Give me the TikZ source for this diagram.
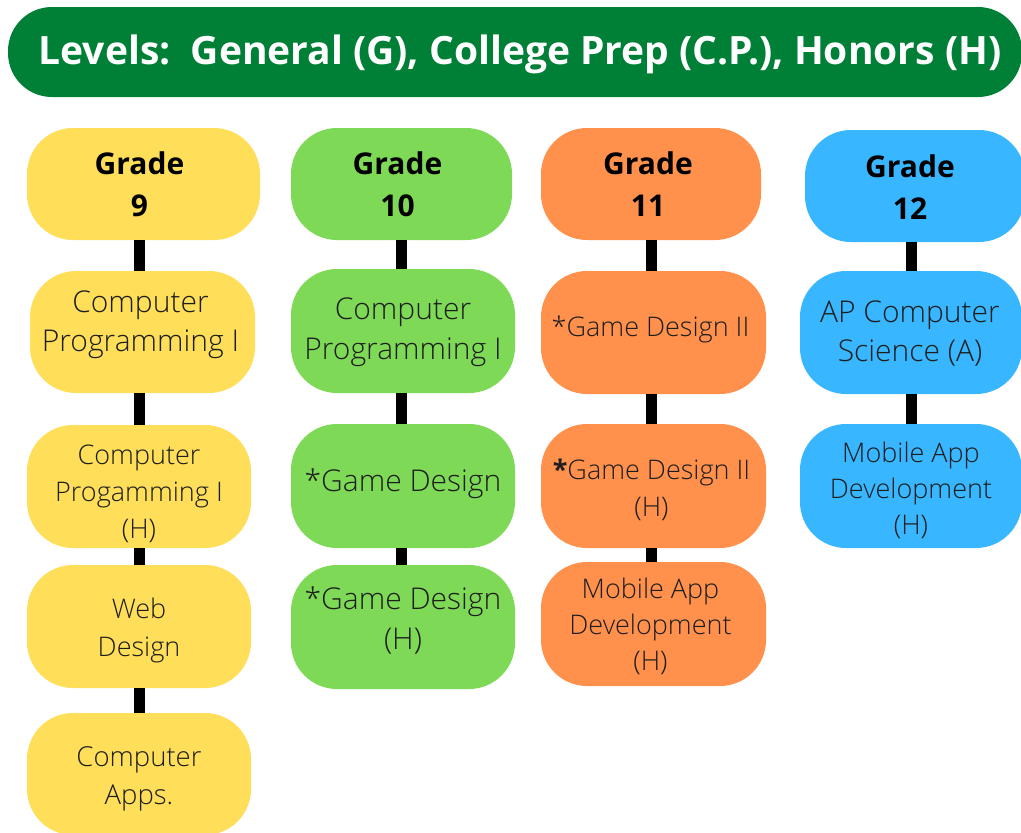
\documentclass[tikz,border=0pt]{standalone}
\usepackage{fontspec}
\setmainfont{Open Sans}
\IfFontExistsTF{Open Sans Light}
  {\newfontfamily\lightfont{Open Sans Light}}
  {\newfontfamily\lightfont{Open Sans}}
\definecolor{ttlgreen}{HTML}{008037}
\definecolor{cyellow}{HTML}{FFDE59}
\definecolor{cgreen}{HTML}{7ED957}
\definecolor{corange}{HTML}{FF914D}
\definecolor{cblue}{HTML}{38B6FF}
\definecolor{txt}{HTML}{1E1E1E}
\begin{document}
\begin{tikzpicture}[x=1pt,y=-1pt,
  box/.style={rounded corners=46pt, inner sep=0pt},
  lbl/.style n args={2}{inner sep=0pt, align=center, text=txt,
    font=\lightfont\fontsize{#1}{#2}\selectfont},
  glbl/.style={inner sep=0pt, align=center, text=black,
    font=\fontsize{30}{42}\selectfont\bfseries},
  link/.style={line width=11pt, black}]
\useasboundingbox (0,0) rectangle (1021,833);
% title
\node[fill=ttlgreen, rounded corners=44pt, minimum width=1014pt, minimum height=90pt] (title) at (515,52) {};
\node[text=white, inner sep=0pt, font=\fontsize{39}{44}\selectfont\bfseries] (titletext) at ([xshift=5pt,yshift=-2pt]title.center)
  {Levels:\ \ General (G), College Prep (C.P.), Honors (H)};
% column 1
\node[box, fill=cyellow, minimum width=233pt, minimum height=112pt] (g9) at (143.5,184) {};
\node[glbl] (g9t) at ([xshift=-4pt]g9.center) {Grade\\9};
\node[box, fill=cyellow, minimum width=225pt, minimum height=122pt] (c1a) at (142.5,332) {};
\node[lbl={30}{39}] (c1at) at ([xshift=-2pt,yshift=7pt]c1a.center) {Computer\\Programming I};
\node[box, fill=cyellow, minimum width=224pt, minimum height=123pt] (c1b) at (139,486.5) {};
\node[lbl={27}{37}] (c1bt) at ([yshift=-7pt]c1b.center) {Computer\\Progamming I\\(H)};
\node[box, fill=cyellow, minimum width=224pt, minimum height=123pt] (c1c) at (139,626.5) {};
\node[lbl={27}{38}] (c1ct) at ([yshift=-4pt]c1c.center) {Web\\Design};
\node[box, fill=cyellow, minimum width=224pt, minimum height=122pt] (c1d) at (139,774) {};
\node[lbl={27.5}{38}] (c1dt) at ([yshift=-5pt]c1d.center) {Computer\\Apps.};
% column 2
\node[box, fill=cgreen, minimum width=221pt, minimum height=112pt] (g10) at (401.5,184) {};
\node[glbl] (g10t) at ([xshift=-4pt]g10.center) {Grade\\10};
\node[box, fill=cgreen, minimum width=224pt, minimum height=124pt] (c2a) at (403,331) {};
\node[lbl={30}{40}] (c2at) at ([yshift=-1pt]c2a.center) {Computer\\Programming I};
\node[box, fill=cgreen, minimum width=224pt, minimum height=124pt] (c2b) at (403,486) {};
\node[lbl={30}{40}] (c2bt) at ([yshift=2pt]c2b.center) {*Game Design};
\node[box, fill=cgreen, minimum width=224pt, minimum height=124pt] (c2c) at (403,627) {};
\node[lbl={30}{40}] (c2ct) at ([yshift=7pt]c2c.center) {*Game Design\\(H)};
% column 3
\node[box, fill=corange, minimum width=220pt, minimum height=112pt] (g11) at (651,184) {};
\node[glbl] (g11t) at ([xshift=-3pt]g11.center) {Grade\\11};
\node[box, fill=corange, minimum width=225pt, minimum height=123pt] (c3a) at (653.5,332.5) {};
\node[lbl={27}{37}] (c3at) at ([xshift=-3pt,yshift=3pt]c3a.center) {*Game Design II};
\node[box, fill=corange, minimum width=225pt, minimum height=124pt] (c3b) at (653.5,486) {};
\node[lbl={27}{37}] (c3bt) at ([xshift=-2pt,yshift=-4pt]c3b.center) {{\normalfont\bfseries *}Game Design II\\(H)};
\node[box, fill=corange, minimum width=225pt, minimum height=124pt] (c3c) at (653.5,624) {};
\node[lbl={27}{36}] (c3ct) at ([xshift=-3pt,yshift=-2pt]c3c.center) {Mobile App\\Development\\(H)};
% column 4
\node[box, fill=cblue, minimum width=220pt, minimum height=112pt] (g12) at (915,186) {};
\node[glbl] (g12t) at ([xshift=-5pt,yshift=-1pt]g12.center) {Grade\\12};
\node[box, fill=cblue, minimum width=222pt, minimum height=123pt] (c4a) at (911,332.5) {};
\node[lbl={30}{39}] (c4at) at ([xshift=-1pt,yshift=-1pt]c4a.center) {AP Computer\\Science (A)};
\node[box, fill=cblue, minimum width=222pt, minimum height=124pt] (c4b) at (911,486) {};
\node[lbl={27}{36}] (c4bt) at ([yshift=-4pt]c4b.center) {Mobile App\\Development\\(H)};
% connectors
\draw[link] (c1c.north |- g9.south) -- (c1c.north |- c1a.north);
\draw[link] (c1c.north |- c1a.south) -- (c1c.north |- c1b.north);
\draw[link] (c1c.north |- c1b.south) -- (c1c.north);
\draw[link] (c1d.north |- c1c.south) -- (c1d.north);
\draw[link] (g10.south) -- (g10.south |- c2a.north);
\draw[link] (g10.south |- c2a.south) -- (g10.south |- c2b.north);
\draw[link] (g10.south |- c2b.south) -- (g10.south |- c2c.north);
\draw[link] (g11.south) -- (g11.south |- c3a.north);
\draw[link] (g11.south |- c3a.south) -- (g11.south |- c3b.north);
\draw[link] (g11.south |- c3b.south) -- (g11.south |- c3c.north);
\draw[link] (c4a.north |- g12.south) -- (c4a.north);
\draw[link] (c4a.south) -- (c4b.north);
\end{tikzpicture}
\end{document}
